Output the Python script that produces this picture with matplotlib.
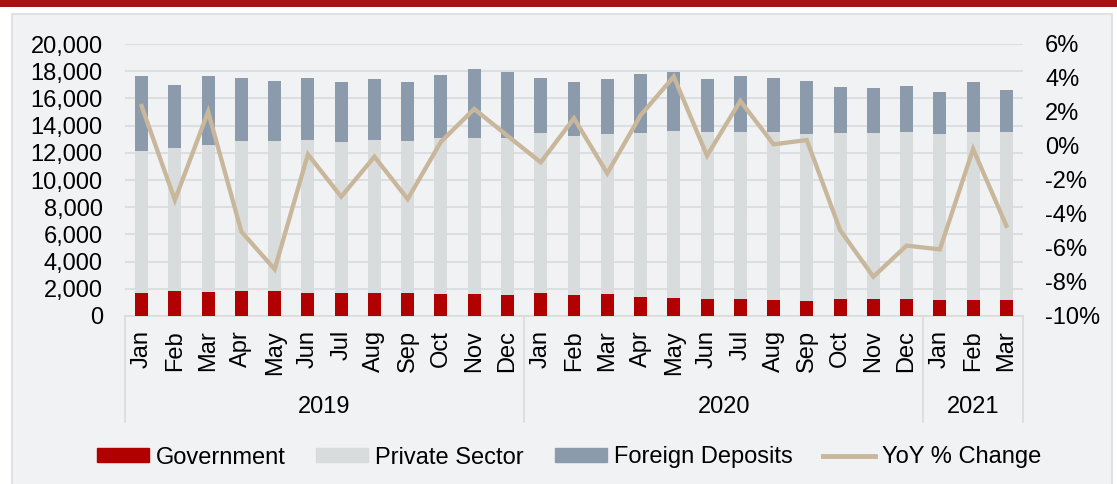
import matplotlib
matplotlib.use("Agg")
import matplotlib.pyplot as plt
from matplotlib.patches import Rectangle
from matplotlib.lines import Line2D
from matplotlib.ticker import FuncFormatter, MultipleLocator
import numpy as np

plt.rcParams['font.family'] = ['Liberation Sans', 'DejaVu Sans']

months = ["Jan", "Feb", "Mar", "Apr", "May", "Jun", "Jul", "Aug", "Sep", "Oct", "Nov", "Dec",
          "Jan", "Feb", "Mar", "Apr", "May", "Jun", "Jul", "Aug", "Sep", "Oct", "Nov", "Dec",
          "Jan", "Feb", "Mar"]
years = ["2019", "2020", "2021"]
year_counts = [12, 12, 3]

government = [1720, 1840, 1760, 1840, 1860, 1670, 1690, 1690, 1670, 1640, 1620, 1570,
              1690, 1520, 1590, 1420, 1350, 1250, 1250, 1200, 1130, 1250, 1250, 1270,
              1180, 1180, 1200]
# top of private sector segment (cumulative)
private_top = [12130, 12350, 12570, 12840, 12840, 12940, 12770, 12970, 12890, 13060, 13060, 13060,
               13430, 13240, 13380, 13430, 13600, 13530, 13530, 13550, 13380, 13430, 13430, 13530,
               13410, 13530, 13550]
total = [17670, 16960, 17650, 17480, 17250, 17480, 17180, 17450, 17180, 17720, 18190, 17920,
         17500, 17230, 17400, 17790, 17970, 17430, 17650, 17500, 17250, 16840, 16790, 16890,
         16470, 17210, 16590]
yoy = [2.35, -3.18, 2.02, -5.04, -7.25, -0.49, -2.98, -0.63, -3.12, 0.25, 2.18, 0.6,
       -0.96, 1.63, -1.61, 1.8, 4.08, -0.57, 2.65, 0.1, 0.35, -4.94, -7.69, -5.86,
       -6.08, -0.18, -4.69]

private = [p - g for p, g in zip(private_top, government)]
foreign = [t - p for t, p in zip(total, private_top)]

c_gov = "#B00000"
c_priv = "#D8DCDD"
c_for = "#8C9BAB"
c_line = "#C9B79C"
c_bg = "#F0F2F4"
c_grid = "#DCDFE2"
fs = 17

W, H = 1117, 484
fig = plt.figure(figsize=(W / 100, H / 100), dpi=100)
fig.patch.set_facecolor("white")

# top red band and panel
fig.add_artist(Rectangle((0, 1 - 6.5 / H), 1, 6.5 / H, transform=fig.transFigure,
                         facecolor="#A31212", edgecolor="none", zorder=0))
fig.add_artist(Rectangle((12 / W, -0.01), (1112 - 12) / W, (H - 14) / H + 0.01,
                         transform=fig.transFigure, facecolor=c_bg,
                         edgecolor="#DFE1E3", linewidth=1.5, zorder=0))

ax = fig.add_axes([125 / W, 1 - 316 / H, (1023 - 125) / W, (316 - 44) / H])
ax.set_facecolor("none")
x = np.arange(len(months))
bw = 0.39
ax.bar(x, government, bw, color=c_gov, zorder=3)
ax.bar(x, private, bw, bottom=government, color=c_priv, zorder=3)
ax.bar(x, foreign, bw, bottom=private_top, color=c_for, zorder=3)

ax.set_xlim(-0.5, len(months) - 0.5)
ax.set_ylim(0, 20000)
ax.yaxis.set_major_locator(MultipleLocator(2000))
ax.yaxis.set_major_formatter(FuncFormatter(lambda v, p: f"{int(v):,}"))
ax.grid(axis="y", color=c_grid, linewidth=1.5, zorder=0)
ax.set_axisbelow(True)
for s in ["top", "right", "left"]:
    ax.spines[s].set_visible(False)
ax.spines["bottom"].set_color("#D9DBDD")
ax.spines["bottom"].set_linewidth(1.2)
ax.set_xticks(x)
ax.set_xticklabels(months, rotation=90, fontsize=fs, va="top", ha="center")
ax.tick_params(axis="x", length=0, pad=10)
ax.tick_params(axis="y", length=0, pad=16, labelsize=fs)

# group separators and year labels
trans = ax.get_xaxis_transform()
bounds = [-0.5]
for c in year_counts:
    bounds.append(bounds[-1] + c)
for b in bounds:
    ax.add_line(Line2D([b, b], [0, -(422 - 316) / 272], transform=trans, color="#D9DBDD",
                       linewidth=1.2, clip_on=False))
for i, yr in enumerate(years):
    xc = (bounds[i] + bounds[i + 1]) / 2
    ax.text(xc, -(407 - 316) / 272, yr, transform=trans, ha="center", va="center", fontsize=fs)

ax2 = ax.twinx()
ax2.plot(x, yoy, color=c_line, linewidth=3.1, zorder=5, solid_joinstyle="miter")
ax2.set_ylim(-10, 6)
ax2.yaxis.set_major_locator(MultipleLocator(2))
ax2.yaxis.set_major_formatter(FuncFormatter(lambda v, p: f"{int(round(v))}%"))
ax2.tick_params(axis="y", length=0, pad=16, labelsize=fs)
for s in ["top", "right", "left", "bottom"]:
    ax2.spines[s].set_visible(False)

handles = [Rectangle((0, 0), 1, 1, color=c_gov), Rectangle((0, 0), 1, 1, color=c_priv),
           Rectangle((0, 0), 1, 1, color=c_for), Line2D([0], [0], color=c_line, linewidth=3.5)]
labels = ["Government", "Private Sector", "Foreign Deposits", "YoY % Change"]
fig.legend(handles, labels, loc="center", bbox_to_anchor=(569 / W, 1 - 457.5 / H), ncol=4,
           frameon=False, fontsize=fs, handlelength=2.2, handleheight=0.55, handletextpad=0.3,
           columnspacing=1.3, borderpad=0)

fig.savefig("out.png", dpi=100)
